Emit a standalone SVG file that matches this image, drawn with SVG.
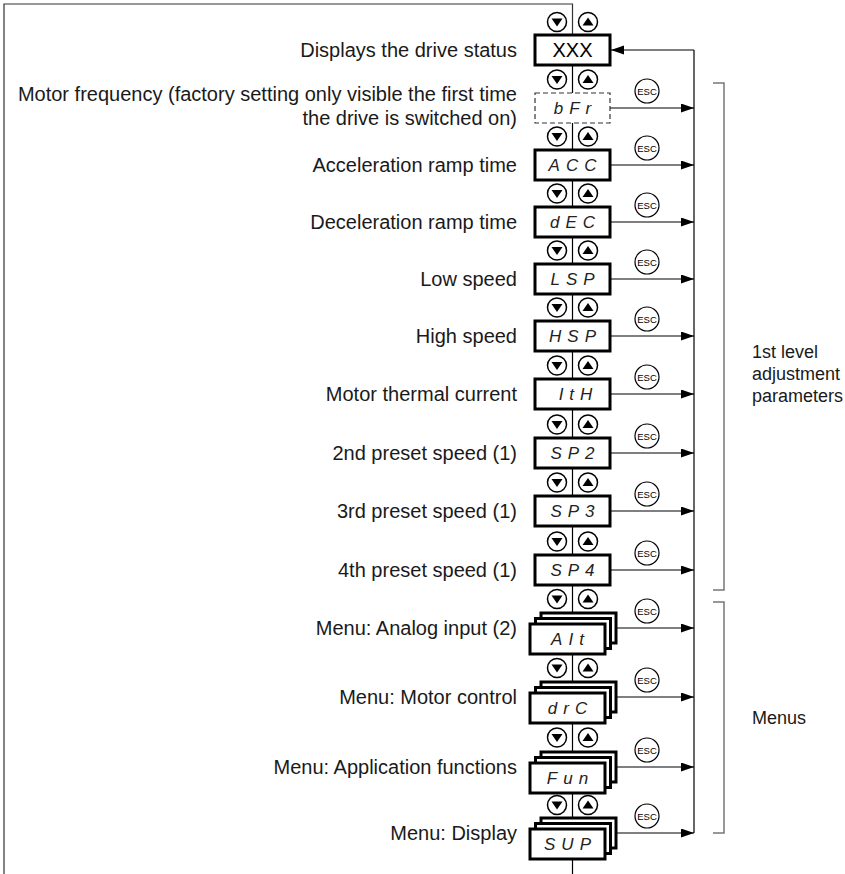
<svg xmlns="http://www.w3.org/2000/svg" xmlns:xlink="http://www.w3.org/1999/xlink" width="845" height="874" viewBox="0 0 845 874">
<style>
.box{fill:#fff;stroke:#000;stroke-width:3}
.dash{fill:#fff;stroke:#333;stroke-width:1.2;stroke-dasharray:5 3}
.btn{fill:#fff;stroke:#000;stroke-width:1.5}
.tri{fill:#000}
.lbl{font-family:"Liberation Sans",Arial,sans-serif;font-size:20px;fill:#1a1a1a;text-anchor:end}
.rl{font-family:"Liberation Sans",Arial,sans-serif;font-size:18px;fill:#1a1a1a}
.seg{font-family:"Liberation Sans",Arial,sans-serif;font-style:italic;font-size:17px;letter-spacing:6px;text-anchor:middle;fill:#222}
.escc{fill:#fff;stroke:#000;stroke-width:1.2}
.esct{font-family:"Liberation Sans",Arial,sans-serif;font-size:9.5px;text-anchor:middle;fill:#000}
.conn{stroke:#000;stroke-width:1.2;fill:none}
.frame{stroke:#333;stroke-width:1.2;fill:none}
.brk{stroke:#777;stroke-width:1.5;fill:none}
</style>
<defs>
<marker id="ah" markerUnits="userSpaceOnUse" markerWidth="14" markerHeight="10" refX="13" refY="4.5" orient="auto">
<path d="M0,0 L13,4.5 L0,9 z" fill="#000"/>
</marker>
<g id="bp">
<circle class="btn" cx="-15.5" cy="0" r="9.5"/>
<path class="tri" d="M-21,-3.5 L-10,-3.5 L-15.5,4.5 z"/>
<circle class="btn" cx="15.5" cy="0" r="9.5"/>
<path class="tri" d="M10,3.5 L21,3.5 L15.5,-4.5 z"/>
</g>
<g id="esc">
<circle class="escc" cx="0" cy="0" r="12"/>
<text class="esct" x="0" y="3.5">ESC</text>
</g>
<g id="stack">
<rect class="box" x="11" y="0" width="75" height="30"/>
<rect class="box" x="5.5" y="5.5" width="75" height="30"/>
<rect class="box" x="0" y="11" width="75" height="30"/>
</g>
</defs>
<rect width="845" height="874" fill="#fff"/>

<g id="connectors">
<path class="frame" d="M572.5,35 V4 H4 V874"/>
<path class="conn" d="M572.5,35 V874"/>
<path class="conn" d="M694,50 V833"/>
<path class="conn" d="M694,50 H611" marker-end="url(#ah)"/>
<path class="conn" d="M610,108 H694" marker-end="url(#ah)"/>
<path class="conn" d="M610,165 H694" marker-end="url(#ah)"/>
<path class="conn" d="M610,222 H694" marker-end="url(#ah)"/>
<path class="conn" d="M610,279 H694" marker-end="url(#ah)"/>
<path class="conn" d="M610,336 H694" marker-end="url(#ah)"/>
<path class="conn" d="M610,394 H694" marker-end="url(#ah)"/>
<path class="conn" d="M610,453 H694" marker-end="url(#ah)"/>
<path class="conn" d="M610,511 H694" marker-end="url(#ah)"/>
<path class="conn" d="M610,570 H694" marker-end="url(#ah)"/>
<path class="conn" d="M616,628 H694" marker-end="url(#ah)"/>
<path class="conn" d="M616,697 H694" marker-end="url(#ah)"/>
<path class="conn" d="M616,767 H694" marker-end="url(#ah)"/>
<path class="conn" d="M616,833 H694" marker-end="url(#ah)"/>
<path class="brk" d="M713,83 H724 V590 H713"/>
<path class="brk" d="M713,602 H724 V833 H713"/>
</g>

<g id="buttons">
<use xlink:href="#bp" x="572.5" y="22"/>
<use xlink:href="#bp" x="572.5" y="79.5"/>
<use xlink:href="#bp" x="572.5" y="136.5"/>
<use xlink:href="#bp" x="572.5" y="193.5"/>
<use xlink:href="#bp" x="572.5" y="250.5"/>
<use xlink:href="#bp" x="572.5" y="307.5"/>
<use xlink:href="#bp" x="572.5" y="365.5"/>
<use xlink:href="#bp" x="572.5" y="424.5"/>
<use xlink:href="#bp" x="572.5" y="482.5"/>
<use xlink:href="#bp" x="572.5" y="541.5"/>
<use xlink:href="#bp" x="572.5" y="599"/>
<use xlink:href="#bp" x="572.5" y="668"/>
<use xlink:href="#bp" x="572.5" y="737.5"/>
<use xlink:href="#bp" x="572.5" y="805"/>
</g>

<g id="esc-keys">
<use xlink:href="#esc" x="647" y="91"/>
<use xlink:href="#esc" x="647" y="148"/>
<use xlink:href="#esc" x="647" y="205"/>
<use xlink:href="#esc" x="647" y="262"/>
<use xlink:href="#esc" x="647" y="319"/>
<use xlink:href="#esc" x="647" y="377"/>
<use xlink:href="#esc" x="647" y="436"/>
<use xlink:href="#esc" x="647" y="494"/>
<use xlink:href="#esc" x="647" y="553"/>
<use xlink:href="#esc" x="647" y="611"/>
<use xlink:href="#esc" x="647" y="680"/>
<use xlink:href="#esc" x="647" y="750"/>
<use xlink:href="#esc" x="647" y="816"/>
</g>

<g id="n-xxx">
<rect class="box" x="535" y="35" width="75" height="30"/>
<text x="572.5" y="57" font-family="Liberation Sans, Arial, sans-serif" font-size="20" text-anchor="middle">XXX</text>
<text class="lbl" x="517" y="57">Displays the drive status</text>
</g>
<g id="n-bfr">
<rect class="dash" x="535" y="93" width="75" height="30"/>
<text class="seg" x="575.5" y="114">bFr</text>
<text class="lbl" x="517" y="101">Motor frequency (factory setting only visible the first time</text>
<text class="lbl" x="517" y="125">the drive is switched on)</text>
</g>
<g id="n-acc">
<rect class="box" x="535" y="150" width="75" height="30"/>
<text class="seg" x="575.5" y="171">ACC</text>
<text class="lbl" x="517" y="172">Acceleration ramp time</text>
</g>
<g id="n-dec">
<rect class="box" x="535" y="207" width="75" height="30"/>
<text class="seg" x="575.5" y="228">dEC</text>
<text class="lbl" x="517" y="229">Deceleration ramp time</text>
</g>
<g id="n-lsp">
<rect class="box" x="535" y="264" width="75" height="30"/>
<text class="seg" x="575.5" y="285">LSP</text>
<text class="lbl" x="517" y="286">Low speed</text>
</g>
<g id="n-hsp">
<rect class="box" x="535" y="321" width="75" height="30"/>
<text class="seg" x="575.5" y="342">HSP</text>
<text class="lbl" x="517" y="343">High speed</text>
</g>
<g id="n-ith">
<rect class="box" x="535" y="379" width="75" height="30"/>
<text class="seg" x="578.5" y="400">ItH</text>
<text class="lbl" x="517" y="401">Motor thermal current</text>
</g>
<g id="n-sp2">
<rect class="box" x="535" y="438" width="75" height="30"/>
<text class="seg" x="575.5" y="459">SP2</text>
<text class="lbl" x="517" y="460">2nd preset speed (1)</text>
</g>
<g id="n-sp3">
<rect class="box" x="535" y="496" width="75" height="30"/>
<text class="seg" x="575.5" y="517">SP3</text>
<text class="lbl" x="517" y="518">3rd preset speed (1)</text>
</g>
<g id="n-sp4">
<rect class="box" x="535" y="555" width="75" height="30"/>
<text class="seg" x="575.5" y="576">SP4</text>
<text class="lbl" x="517" y="577">4th preset speed (1)</text>
</g>
<g id="n-ait">
<use xlink:href="#stack" x="530" y="613"/>
<text class="seg" x="570.5" y="645" letter-spacing="9">AIt</text>
<text class="lbl" x="517" y="635">Menu: Analog input (2)</text>
</g>
<g id="n-drc">
<use xlink:href="#stack" x="530" y="682"/>
<text class="seg" x="570.5" y="714">drC</text>
<text class="lbl" x="517" y="704">Menu: Motor control</text>
</g>
<g id="n-fun">
<use xlink:href="#stack" x="530" y="752"/>
<text class="seg" x="570.5" y="784">Fun</text>
<text class="lbl" x="517" y="774">Menu: Application functions</text>
</g>
<g id="n-sup">
<use xlink:href="#stack" x="530" y="818"/>
<text class="seg" x="570.5" y="850">SUP</text>
<text class="lbl" x="517" y="840">Menu: Display</text>
</g>

<g id="group-labels">
<text class="rl" x="752" y="358">1st level</text>
<text class="rl" x="752" y="380">adjustment</text>
<text class="rl" x="752" y="402">parameters</text>
<text class="rl" x="752" y="724">Menus</text>
</g>
</svg>
